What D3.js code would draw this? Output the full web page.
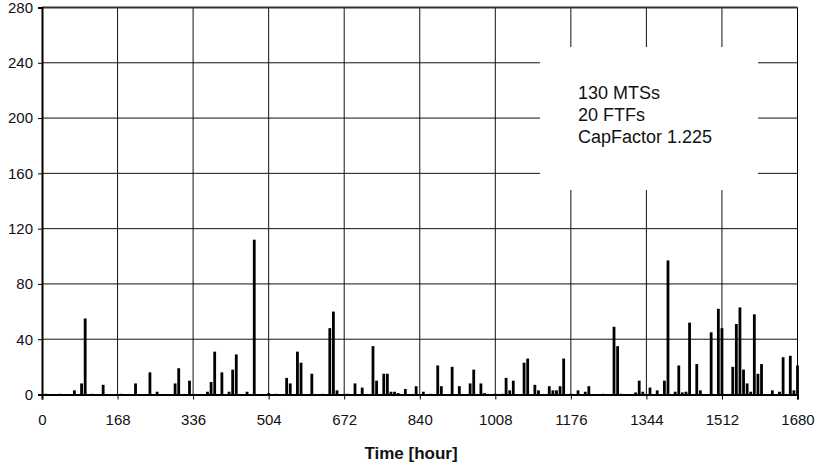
<!DOCTYPE html>
<html><head><meta charset="utf-8">
<script src="https://cdn.jsdelivr.net/npm/d3@7"></script>
<style>body{margin:0;background:#fff}svg{display:block;font-family:"Liberation Sans",Arial,Helvetica,sans-serif}</style>
</head><body><svg id="c" width="822" height="468"></svg>
<script>
// Data (hours with nonzero values)
const hours = [8,40,72,88,96,112,136,176,208,240,256,296,304,328,368,376,384,400,416,424,432,456,472,504,520,544,552,568,576,600,624,640,648,656,680,696,712,736,744,760,768,776,784,792,808,832,848,864,880,888,912,928,952,960,976,984,1008,1024,1032,1040,1048,1072,1080,1096,1104,1128,1136,1144,1152,1160,1176,1192,1208,1216,1248,1272,1280,1288,1320,1328,1336,1352,1368,1384,1392,1408,1416,1424,1432,1440,1456,1464,1488,1504,1512,1536,1544,1552,1560,1568,1576,1584,1592,1600,1624,1640,1648,1664,1672,1680];
const values = [0.5,0.5,3,8,55,0.5,7,0.5,8,16,2,8,19,10,2,9,31,16,2,18,29,2,112,1,0.5,12,8,31,23,15,0.5,48,60,3,0.5,8,5,35,10,15,15,2,2,1,4,6,2,0.5,21,6,20,6,8,18,8,1,0.5,0.5,12,3,10,23,26,7,3,6,3,3,6,26,0.5,3,2,6,0.5,49,35,0.5,1.5,10,2,5,3,10,97,2,21,1.5,2,52,22,3,45,62,48,20,51,63,18,8,2,58,15,22,3,2,27,28,3,21];
const xTicks = [0,168,336,504,672,840,1008,1176,1344,1512,1680];
const yTicks = [0,40,80,120,160,200,240,280];
const noteLines = ["130 MTSs","20 FTFs","CapFactor 1.225"];
const xLabel = "Time [hour]";

const svg = d3.select("#c");
const L = 42, R = 797.5, T = 7.5, B = 394.5;
const x = d3.scaleLinear().domain([0,1680]).range([L,R]);
const y = d3.scaleLinear().domain([0,280]).range([B,T]);

// gridlines
svg.append("g").selectAll("line").data(yTicks.slice(1,-1)).join("line")
  .attr("x1",L).attr("x2",R).attr("y1",d=>y(d)).attr("y2",d=>y(d))
  .attr("stroke","#111").attr("stroke-width",1);
svg.append("g").selectAll("line").data(xTicks.slice(1,-1)).join("line")
  .attr("y1",T).attr("y2",B).attr("x1",d=>x(d)).attr("x2",d=>x(d))
  .attr("stroke","#111").attr("stroke-width",1);

// text box
svg.append("rect").attr("x",540).attr("y",47).attr("width",218).attr("height",143).attr("fill","#fff");
svg.append("g").selectAll("text").data(noteLines).join("text")
  .attr("x",578).attr("y",(d,i)=>99+i*22).attr("font-size",18).attr("fill","#111").text(d=>d);

// bars
const data = hours.map((h,i)=>({h, v: values[i]}));
svg.append("g").selectAll("rect").data(data).join("rect")
  .attr("x",d=>x(d.h)-1.4).attr("width",2.8)
  .attr("y",d=>y(d.v)).attr("height",d=>B-y(d.v)).attr("fill","#000");

// frame
svg.append("line").attr("x1",L).attr("x2",R).attr("y1",T).attr("y2",T).attr("stroke","#333").attr("stroke-width",2);
svg.append("line").attr("x1",R).attr("x2",R).attr("y1",T).attr("y2",B).attr("stroke","#000").attr("stroke-width",1);

// axes
const ya = svg.append("g").attr("transform",`translate(${L},0)`)
  .call(d3.axisLeft(y).tickValues(yTicks).tickSize(4).tickPadding(5));
ya.select(".domain").attr("stroke","#000").attr("stroke-width",2);
ya.selectAll("text").attr("font-size",15).attr("font-family",null).attr("fill","#111");
ya.selectAll(".tick line").attr("stroke","#000");

const xa = svg.append("g").attr("transform",`translate(0,${B})`)
  .call(d3.axisBottom(x).tickValues(xTicks).tickFormat(d3.format("d")).tickSize(5).tickPadding(15));
xa.select(".domain").attr("stroke","#000").attr("stroke-width",2);
xa.selectAll("text").attr("font-size",15).attr("font-family",null).attr("fill","#111");
xa.selectAll(".tick line").attr("stroke","#000");

svg.append("text").attr("x",411).attr("y",459).attr("text-anchor","middle")
  .attr("font-size",17).attr("font-weight","bold").attr("fill","#111").text(xLabel);
</script></body></html>
